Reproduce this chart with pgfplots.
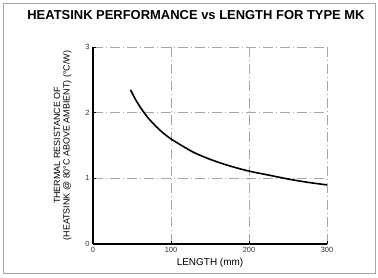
\documentclass[border=0pt]{standalone}
\usepackage{pgfplots}
\pgfplotsset{compat=1.18}
\usepackage{fontspec}
\setmainfont{Liberation Sans}
\begin{document}
\begin{tikzpicture}[x=1bp,y=1bp]
\useasboundingbox (0,0) rectangle (378,278);
\draw[gray!70, line width=0.6bp] (3,5) rectangle (375,275);
\node[font=\bfseries\fontsize{13}{15}\selectfont, anchor=center] at (196,263) {HEATSINK PERFORMANCE vs LENGTH FOR TYPE MK};
\begin{axis}[
  at={(93bp,34bp)}, anchor=origin,
  scale only axis, width=234bp, height=197bp,
  xmin=0, xmax=300, ymin=0, ymax=3,
  xtick={0,100,200,300}, ytick={0,1,2,3},
  axis x line*=bottom, axis y line*=left,
  axis line style={line width=1.6bp, -},
  grid=major,
  major grid style={gray!70, dash pattern=on 10bp off 3bp on 1bp off 3bp, line width=0.5bp},
  tick style={black, line width=0.4bp, major tick length=3bp},
  tick label style={font=\fontsize{7.5}{8}\selectfont, text=black!80},
  /pgf/number format/assume math mode=true,
  xlabel={LENGTH (mm)},
  xlabel style={font=\fontsize{10}{11}\selectfont, yshift=1bp},
  ylabel={\begin{tabular}{c}THERMAL RESISTANCE OF\\(HEATSINK @ 80°C ABOVE AMBIENT) (°C/W)\end{tabular}},
  ylabel style={font=\fontsize{9}{9.5}\selectfont, yshift=6bp},
  clip=false,
]
\addplot[black, line width=1.6bp, smooth] coordinates {
(48,2.35) (55,2.19) (62,2.06) (70,1.93) (80,1.80) (90,1.69) (100,1.60) (115,1.49) (130,1.39) (150,1.29) (175,1.19) (200,1.11) (225,1.05) (250,0.99) (275,0.94) (300,0.90)
};
\end{axis}
\end{tikzpicture}
\end{document}
